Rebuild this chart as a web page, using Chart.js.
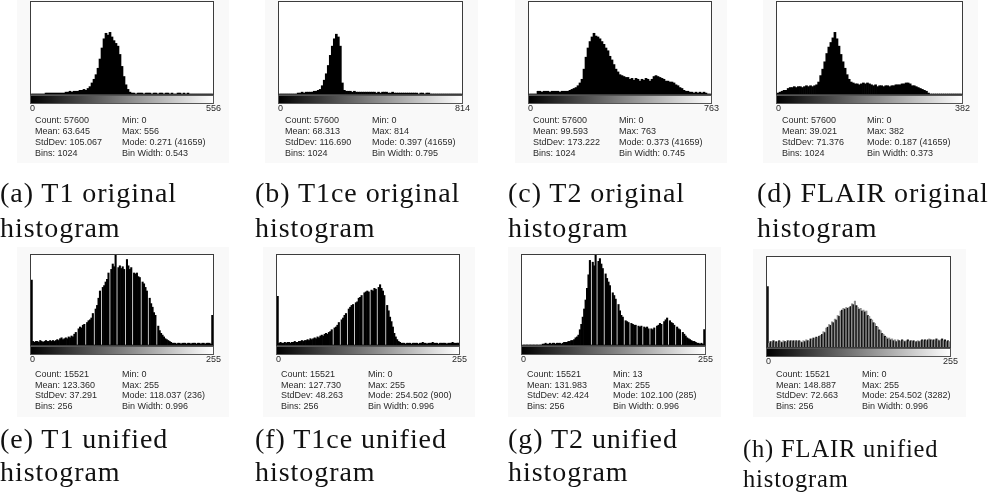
<!DOCTYPE html>
<html>
<head>
<meta charset="utf-8">
<script src="https://cdn.jsdelivr.net/npm/chart.js@4/dist/chart.umd.min.js"></script>
<style>
  html, body { margin: 0; padding: 0; background: #fff; }
  body { position: relative; width: 989px; height: 499px; overflow: hidden; }
  .bg { position: absolute; background: #f9f9f9; }
  canvas { position: absolute; }
  .stat { position: absolute; font-family: "Liberation Sans", Arial, sans-serif; font-size: 9px; line-height: 10.9px; color: #2a2a2a; white-space: nowrap; }
  .cap { position: absolute; font-family: "Liberation Serif", "Times New Roman", serif; font-size: 28px; line-height: 28px; letter-spacing: 0.95px; color: #111; white-space: nowrap; }
</style>
</head>
<body>
<script>
// histogram heights, % of plot height (91 display bins for the 1024-bin originals, 128 for the 256-bin unified)
const t1Orig = [0,0,0,0,0,0,0, 1,1,1,1,1,1,1,1,1,1, 2,2,3,2,3,3, 3,4,4,5,4,6,
  8,12,16,21,28,38,50,60,66,64,67,62,58,55,52,43,30,19,10,5,2,
  1,1,0,1,1,1,0,1,1,1,0,1,1,0,1,1,0,1,1,0,1,0,0,1,1,0,1,0,1,
  0,0,0,0,0,0,0,0,0,0,0,0];
const t1ceOrig = [0,0,0,0,0,0,0,0,0, 1,1,2,1,2,2,2,2,3,3,
  4,5,9,15,22,31,42,52,60,65,62,52,12,4,
  3,3,3,2,3,2,2,2,2,2, 2,2,2,2,2,1,2,1,2,2, 2,1,1,2,1,1,1,1,1,1, 1,1,1,1,1,1,0,1,1,0, 1,1,0,
  0,0,0,0,0,0,0,0,0,0,0,0,0,0,0];
const t2Orig = [0,0,0,0, 3,3,2,3,3,3,2,3,3,3,3,2,3,3,3,3,4,
  5,6,7,9,12,16,27,40,50,57, 62,66,63,62,60,57,54,50,47,41, 37,32,27,24,21,20,19,18,18,16,
  17,15,17,16,14,16,15,17,16,14, 16,19,20,19,18,17,16,14,14,13, 13,12,10,9,7,6,4,3,3,
  2,2,1,2,1,2,1,2,1, 0,0];
const flairOrig = [1,2,3,4,4,6,7,7,8,7,8,8,7,8,9,8,9,8,9,10,
  13,20,27,35,44,51,56,61,67,60,52,43,35,28,21,16,13,12,11,11,
  10,11,12,11,12,11,10,9,10,8,9,9,8,9,9,8,9,9,10,10,
  10,11,11,12,12,11,9,9,8,7,6,5,4,3,1,
  0,0,0,0,0,0,0,0,0,0,0,0,0,0,0,0];
const t1Uni = [72,4,3,4,4,3,5,4,3,4, 5,4,4,5,4,5,4,5,6,5, 7,8,6,7,8,7,9,8,10,9, 12,14,
  0,18,20,19,22,23,0,25,27,28, 30,35,0,40,44,52,60,0,64,66, 70,73,80,0,84,90,87,100,0,86,
  88,85,87,84,0,95,88,84,86,0, 80,79,80,76,75,0,70,68,64,60, 0,52,46,42,36,33,0,21,16,13,
  11,9,7,6,5,4,3,
  2,2,2,1,2,2,1,2,2,2,1,2,2,1,2,2,2,1,2,2,1,2,2,1,2,2,2,1, 33];
const t1ceUni = [54, 2,3,2,2,3,2,3,3,2,3,3,4,3,3,4,4,5,4,5,
  5,6,5,7,6,7,8,7,9,8,10,11,10,12,13,12,14,15,17,
  0,19,20,22,25,0,28,30,33,35, 0,40,42,44,45,0,47,48,52,53, 55,0,58,59,60,59,0,61,60,63,
  62,0,64,67,63,60,55,0,44,38, 31,26,20,13,9,6,4,3,
  2,2,2,1,2,2,2,1,2,2, 2,2,1,2,2,3,2,2,1,2, 2,2,3,2,2,2,1,2,2,2, 2,2,1,2,2,2,3,2,2,2, 2];
const t2Uni = [0,0,0,0,0,0,0,0,0,0,0,0,0,0,
  1,1,2,1,1,2,1,2,2,1,2,2,2,1,2,3,3,
  3,4,4,5,5,6,8,9,11,17,23,31,40,50,63,78,94,
  0,92,88,100,0,93,96,90,85,0, 79,74,70,66,
  0,58,55,51,0,45,38,33,31,0, 27,26,25,0,24,23,22,22,0,21, 20,21,0,20,19,20,18,0,18,17,
  19,0,21,22,24,23,0,26,28,30, 0,27,25,24,22,0,20,18,17,0,
  14,12,10,8,7,6,5,4,4,3,2,2,1,2,1,17];
const flairUni = [67,
  4,6,5,7,5,6,4,7,6,5,7,6,5,7,6,7,6,7,5,7,6,7,6,5,7,6,8,7,6,
  9,8,10,9,11,10,12,13,14,17, 16,21,22,25,24,28,27,31,30,35, 34,40,41,43,42,44,43,44,45,48,
  47,51,46,44,42,43,40,41,39,40, 35,34,31,30,27,26,23,22,19,18, 15,14,12,11,9,10,8,9,
  7,8,6,8,7,6,8,7,6,7, 8,6,7,6,7,5,6,7,6,7, 8,7,8,7,8,9,8,7,8,7, 9,8,7,8,9,7,8,6,7, 6];

// end labels under the grey ramp
const axisMax = ['556', '814', '763', '382', '255', '255', '255', '255'];

const statsLeft = [
  ['Count: 57600', 'Mean: 63.645', 'StdDev: 105.067', 'Bins: 1024'],
  ['Count: 57600', 'Mean: 68.313', 'StdDev: 116.690', 'Bins: 1024'],
  ['Count: 57600', 'Mean: 99.593', 'StdDev: 173.222', 'Bins: 1024'],
  ['Count: 57600', 'Mean: 39.021', 'StdDev: 71.376', 'Bins: 1024'],
  ['Count: 15521', 'Mean: 123.360', 'StdDev: 37.291', 'Bins: 256'],
  ['Count: 15521', 'Mean: 127.730', 'StdDev: 48.263', 'Bins: 256'],
  ['Count: 15521', 'Mean: 131.983', 'StdDev: 42.424', 'Bins: 256'],
  ['Count: 15521', 'Mean: 148.887', 'StdDev: 72.663', 'Bins: 256'],
];
const statsRight = [
  ['Min: 0', 'Max: 556', 'Mode: 0.271 (41659)', 'Bin Width: 0.543'],
  ['Min: 0', 'Max: 814', 'Mode: 0.397 (41659)', 'Bin Width: 0.795'],
  ['Min: 0', 'Max: 763', 'Mode: 0.373 (41659)', 'Bin Width: 0.745'],
  ['Min: 0', 'Max: 382', 'Mode: 0.187 (41659)', 'Bin Width: 0.373'],
  ['Min: 0', 'Max: 255', 'Mode: 118.037 (236)', 'Bin Width: 0.996'],
  ['Min: 0', 'Max: 255', 'Mode: 254.502 (900)', 'Bin Width: 0.996'],
  ['Min: 13', 'Max: 255', 'Mode: 102.100 (285)', 'Bin Width: 0.996'],
  ['Min: 0', 'Max: 255', 'Mode: 254.502 (3282)', 'Bin Width: 0.996'],
];

const captions = [
  ['(a) T1 original', 'histogram'],
  ['(b) T1ce original', 'histogram'],
  ['(c) T2 original', 'histogram'],
  ['(d) FLAIR original', 'histogram'],
  ['(e) T1 unified', 'histogram'],
  ['(f) T1ce unified', 'histogram'],
  ['(g) T2 unified', 'histogram'],
  ['(h) FLAIR unified', 'histogram'],
];

const series = [t1Orig, t1ceOrig, t2Orig, flairOrig, t1Uni, t1ceUni, t2Uni, flairUni];

// plot frame (L,T,W,H), stats columns, caption origin
const layout = [
  { L: 31,  T: 2,   W: 182, H: 92, sx: [35, 122],  sy: 114.9, cx: 0,   cy: [178.5, 213.5] },
  { L: 279, T: 2,   W: 183, H: 92, sx: [285, 372], sy: 114.9, cx: 255, cy: [178.5, 213.5] },
  { L: 529, T: 2,   W: 182, H: 92, sx: [533, 619], sy: 114.9, cx: 508, cy: [178.5, 213.5] },
  { L: 777, T: 2,   W: 185, H: 92, sx: [782, 867], sy: 114.9, cx: 757, cy: [178.5, 213.5] },
  { L: 31,  T: 255, W: 182, H: 90, sx: [35, 122],  sy: 368.6, cx: 0,   cy: [424.5, 457.5] },
  { L: 277, T: 255, W: 182, H: 90, sx: [281, 368], sy: 368.6, cx: 255, cy: [424.5, 457.5] },
  { L: 522, T: 255, W: 183, H: 90, sx: [527, 613], sy: 368.6, cx: 508, cy: [424.5, 457.5] },
  { L: 767, T: 257, W: 183, H: 90, sx: [776, 862], sy: 368.6, cx: 743, cy: [436.5, 466.5], small: true },
];

const PAD = { left: 10, top: 2, right: 20, bottom: 24 };

// white plot field, then frame, grey ramp and end labels, ImageJ style
const histFrame = {
  id: 'histFrame',
  beforeDraw(chart) {
    const { ctx, chartArea: a } = chart;
    ctx.save();
    ctx.fillStyle = '#fff';
    ctx.fillRect(a.left, a.top, a.right - a.left, a.bottom - a.top);
    ctx.restore();
  },
  afterDraw(chart, args, opts) {
    const { ctx, chartArea: a } = chart;
    ctx.save();
    ctx.strokeStyle = '#3c3c3c';
    ctx.lineWidth = 1;
    ctx.strokeRect(a.left - 0.5, a.top - 0.5, a.right - a.left + 1, a.bottom - a.top + 1);

    const y0 = a.bottom + 1.5;
    const g = ctx.createLinearGradient(a.left, 0, a.right, 0);
    g.addColorStop(0, '#000');
    g.addColorStop(1, '#fff');
    ctx.fillStyle = g;
    ctx.fillRect(a.left - 0.5, y0, a.right - a.left + 1, 8);
    ctx.strokeStyle = '#555';
    ctx.strokeRect(a.left - 0.5, y0, a.right - a.left + 1, 8);

    ctx.fillStyle = '#2a2a2a';
    ctx.font = '9px "Liberation Sans", Arial, sans-serif';
    ctx.textBaseline = 'middle';
    ctx.textAlign = 'left';
    ctx.fillText('0', a.left - 1, a.bottom + 15);
    ctx.textAlign = 'right';
    ctx.fillText(opts.max, a.right + 8, a.bottom + 15);
    ctx.restore();
  }
};

series.forEach((data, k) => {
  const p = layout[k];

  const bg = document.createElement('div');
  bg.className = 'bg';
  const bgTop = Math.max(p.T - 8, 0);
  Object.assign(bg.style, {
    left: (p.L - 14) + 'px', top: bgTop + 'px',
    width: (p.W + 30) + 'px', height: (p.sy + 48 - bgTop) + 'px'
  });
  document.body.appendChild(bg);

  const cv = document.createElement('canvas');
  cv.width = p.W + PAD.left + PAD.right;
  cv.height = p.H + PAD.top + PAD.bottom;
  cv.style.left = (p.L - PAD.left) + 'px';
  cv.style.top = (p.T - PAD.top) + 'px';
  document.body.appendChild(cv);

  const bins = data.map((v, i) => String(i));
  const colors = k === 7 ? data.map((v, i) => (i % 2 ? '#8c8c8c' : '#111')) : '#000';

  new Chart(cv, {
    type: 'bar',
    data: {
      labels: bins,
      datasets: [{
        data: data,
        backgroundColor: colors,
        borderWidth: 0,
        barPercentage: 1,
        categoryPercentage: 1,
      }],
    },
    options: {
      responsive: false,
      animation: false,
      layout: { padding: PAD },
      scales: {
        x: { display: false },
        y: { display: false, min: 0, max: 100 },
      },
      plugins: {
        legend: { display: false },
        tooltip: { enabled: false },
        histFrame: { max: axisMax[k] },
      },
    },
    plugins: [histFrame],
  });

  [statsLeft[k], statsRight[k]].forEach((col, c) => {
    const d = document.createElement('div');
    d.className = 'stat';
    d.style.left = p.sx[c] + 'px';
    d.style.top = p.sy + 'px';
    d.innerHTML = col.join('<br>');
    document.body.appendChild(d);
  });

  captions[k].forEach((line, j) => {
    const d = document.createElement('div');
    d.className = 'cap';
    d.style.left = p.cx + 'px';
    d.style.top = p.cy[j] + 'px';
    if (p.small) {
      d.style.fontSize = '24.5px';
      d.style.lineHeight = '24.5px';
      d.style.letterSpacing = '0.85px';
    }
    d.textContent = line;
    document.body.appendChild(d);
  });
});
</script>
</body>
</html>
